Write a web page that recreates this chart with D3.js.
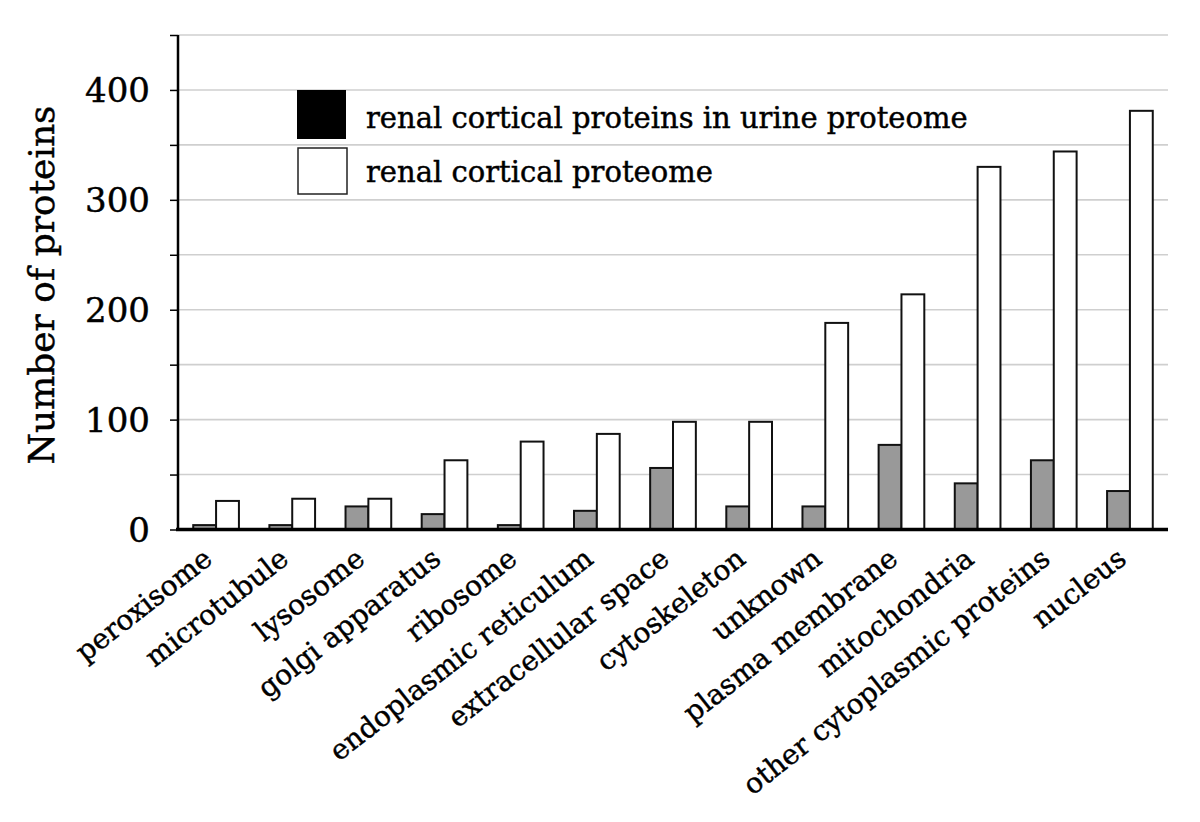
<!DOCTYPE html>
<html>
<head>
<meta charset="utf-8">
<script src="https://cdn.jsdelivr.net/npm/d3@7"></script>
<style>
  body { margin: 0; background: #fff; }
  svg { font-family: "DejaVu Serif", "Liberation Serif", serif; }
  text { fill: #000; stroke: #000; stroke-width: 0.45px; }
</style>
</head>
<body>
<div id="chart"></div>
<script>
// categories along the x axis
const categories = [
  "peroxisome", "microtubule", "lysosome", "golgi apparatus", "ribosome",
  "endoplasmic reticulum", "extracellular space", "cytoskeleton", "unknown",
  "plasma membrane", "mitochondria", "other cytoplasmic proteins", "nucleus"
];
// renal cortical proteins found in urine proteome (grey bars)
const urineValues = [4, 4, 21, 14, 4, 17, 56, 21, 21, 77, 42, 63, 35];
// renal cortical proteome (white bars)
const cortexValues = [26, 28, 28, 63, 80, 87, 98, 98, 188, 214, 330, 344, 381];
const seriesNames = ["renal cortical proteins in urine proteome", "renal cortical proteome"];
const yTicks = [0, 100, 200, 300, 400];
const yGrid = [50, 100, 150, 200, 250, 300, 350, 400, 450];

const width = 1200, height = 822;
const plot = { left: 178, right: 1168, top: 35, bottom: 529.5 };

const svg = d3.select("#chart").append("svg")
  .attr("width", width)
  .attr("height", height);

const y = d3.scaleLinear().domain([0, 450]).range([plot.bottom, plot.top]);
const x = d3.scaleBand().domain(categories).range([plot.left, plot.right])
  .paddingInner(0.4).paddingOuter(0.2);
const xSub = d3.scaleBand().domain([0, 1]).range([0, x.bandwidth()]);

// grid lines
svg.append("g")
  .selectAll("line")
  .data(yGrid)
  .join("line")
  .attr("x1", plot.left)
  .attr("x2", plot.right)
  .attr("y1", d => y(d))
  .attr("y2", d => y(d))
  .attr("stroke", "#cfcfcf")
  .attr("stroke-width", 1.6);

// y axis
const yAxis = svg.append("g")
  .attr("transform", `translate(${plot.left},0)`)
  .call(d3.axisLeft(y).tickValues(yGrid.concat([0])).tickSize(8).tickFormat(""));
yAxis.select(".domain").remove();
yAxis.selectAll(".tick line").attr("stroke", "#000").attr("stroke-width", 1.5);
svg.append("line")
  .attr("x1", plot.left).attr("x2", plot.left)
  .attr("y1", plot.top).attr("y2", plot.bottom)
  .attr("stroke", "#000").attr("stroke-width", 2.5);

svg.append("g")
  .selectAll("text")
  .data(yTicks)
  .join("text")
  .attr("x", 150)
  .attr("y", d => y(d))
  .attr("dy", "0.36em")
  .attr("text-anchor", "end")
  .style("font-size", "34px")
  .text(d => d);

svg.append("text")
  .attr("transform", `translate(54,285) rotate(-90)`)
  .attr("text-anchor", "middle")
  .style("font-size", "36px")
  .text("Number of proteins");

// bars
const groups = svg.append("g")
  .selectAll("g")
  .data(categories)
  .join("g")
  .attr("transform", d => `translate(${x(d)},0)`);

groups.append("rect")
  .attr("x", xSub(0))
  .attr("width", xSub.bandwidth())
  .attr("y", (d, i) => y(urineValues[i]))
  .attr("height", (d, i) => y(0) - y(urineValues[i]))
  .attr("fill", "#999")
  .attr("stroke", "#111")
  .attr("stroke-width", 2);

groups.append("rect")
  .attr("x", xSub(1))
  .attr("width", xSub.bandwidth())
  .attr("y", (d, i) => y(cortexValues[i]))
  .attr("height", (d, i) => y(0) - y(cortexValues[i]))
  .attr("fill", "#fff")
  .attr("stroke", "#111")
  .attr("stroke-width", 2);

// x axis line
svg.append("line")
  .attr("x1", plot.left - 2).attr("x2", plot.right)
  .attr("y1", plot.bottom).attr("y2", plot.bottom)
  .attr("stroke", "#000").attr("stroke-width", 3.5);

// x labels
svg.append("g")
  .selectAll("text")
  .data(categories)
  .join("text")
  .attr("transform", d => `translate(${x(d) + x.bandwidth() / 2 - 14},${plot.bottom + 17}) rotate(-38)`)
  .attr("text-anchor", "end")
  .attr("dy", "0.7em")
  .style("font-size", "28px")
  .text(d => d);

// legend
const legend = svg.append("g");
legend.append("rect")
  .attr("x", 297).attr("y", 90)
  .attr("width", 49).attr("height", 49)
  .attr("fill", "#000");
legend.append("rect")
  .attr("x", 298).attr("y", 148)
  .attr("width", 49).attr("height", 46)
  .attr("fill", "#fff")
  .attr("stroke", "#222")
  .attr("stroke-width", 1.5);
legend.selectAll("text")
  .data(seriesNames)
  .join("text")
  .attr("x", 366)
  .attr("y", (d, i) => 118 + i * 54)
  .attr("dy", "0.36em")
  .style("font-size", "29px")
  .text(d => d);
</script>
</body>
</html>
